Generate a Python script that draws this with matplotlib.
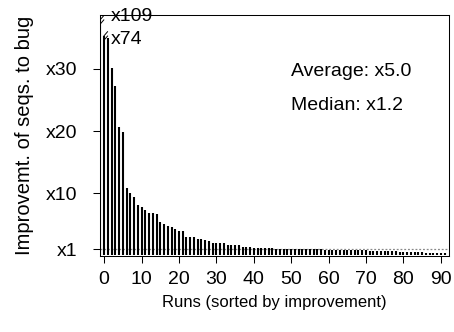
import numpy as np
import matplotlib
matplotlib.use("Agg")
import matplotlib.pyplot as plt

plt.rcParams['font.family'] = ['Liberation Sans', 'DejaVu Sans']

# improvement factor per run, sorted (first two are off the scale)
improvement = [109, 74, 35.0, 30.2, 27.2, 20.6, 19.8, 10.8, 10.0, 9.4,
               8.1, 7.8, 7.3, 6.8, 6.8, 6.7, 5.3, 5.0, 4.8, 4.5,
               4.2, 4.0, 4.0, 3.0, 3.0, 2.9, 2.6, 2.6, 2.4, 2.3,
               2.0, 2.0, 2.0, 2.0, 1.7, 1.6, 1.6, 1.6, 1.4, 1.4,
               1.3, 1.2, 1.2, 1.2, 1.2, 1.2, 1.2, 1.1, 1.1, 1.1,
               1.05, 1.05, 1.0, 1.0, 1.0, 1.0, 1.0, 0.95, 0.95, 0.95,
               0.9, 0.9, 0.9, 0.9, 0.85, 0.85, 0.85, 0.85, 0.8, 0.8,
               0.8, 0.8, 0.75, 0.75, 0.75, 0.7, 0.7, 0.7, 0.65, 0.65,
               0.6, 0.6, 0.6, 0.55, 0.55, 0.5, 0.5, 0.45, 0.45, 0.4,
               0.4, 0.35, 0.35]
clipped_tops = [37.9, 35.3]   # where the off-scale bars are cut
label_y = [38.4, 34.7]
yticks = [1, 10, 20, 30]
ytick_labels = ["x1", "x10", "x20", "x30"]
xticks = list(range(0, 100, 10))
average = 5.0
median = 1.2

runs = np.arange(len(improvement)) - 1
shown = np.array(improvement, dtype=float)
shown[:len(clipped_tops)] = clipped_tops

fig = plt.figure(figsize=(4.54, 3.32), dpi=100)
ax = fig.add_axes([0.220, 0.229, 0.769, 0.726])

ax.axhline(1, color="#888888", lw=0.9, ls=(0, (1.5, 1.5)), zorder=1)
ax.vlines(runs, 0, shown, color="black", lw=1.5, zorder=2)

# break marks + real values for the clipped bars
for i, top in enumerate(clipped_tops):
    x = runs[i]
    for dy in (-0.35, 0.35):
        ax.plot([x - 0.1, x + 0.9], [top + dy - 0.35, top + dy + 0.35],
                color="black", lw=0.7, zorder=3)
    ax.text(1.8, label_y[i], "x%d" % improvement[i], fontsize=14,
            va="center", ha="left")

ax.text(50, 29.6, "Average: x%.1f" % average, fontsize=14, va="center")
ax.text(50, 24.2, "Median: x%.1f" % median, fontsize=14, va="center")

ax.set_xlim(-1.15, 92.2)
ax.set_ylim(-0.1, 38.7)
ax.set_xticks(xticks)
ax.set_yticks(yticks)
ax.set_yticklabels(ytick_labels)
ax.tick_params(direction="out", length=5, width=0.75, labelsize=14)
ax.tick_params(axis="y", pad=11)
ax.tick_params(axis="x", pad=6)
for s in ax.spines.values():
    s.set_linewidth(0.75)

ax.set_xlabel("Runs (sorted by improvement)", fontsize=12, labelpad=5)
ax.set_ylabel("Improvemt. of seqs. to bug", fontsize=14.5, labelpad=9)

fig.savefig("out.png", dpi=100)
